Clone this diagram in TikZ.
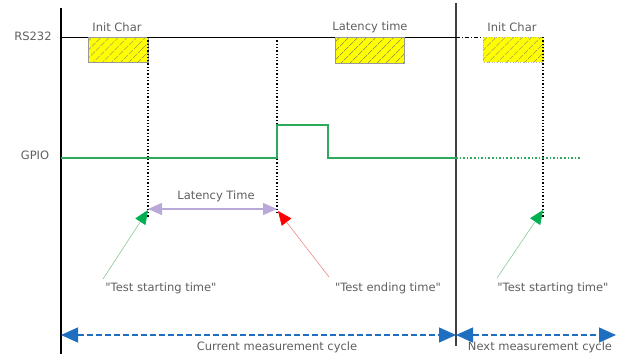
\documentclass[tikz,border=0pt]{standalone}
\usepackage{fontspec}
\setmainfont{DejaVu Sans}
\usetikzlibrary{arrows.meta,patterns.meta}
\definecolor{txtgray}{HTML}{5F5F5F}
\definecolor{gpiogreen}{HTML}{2EAA5C}
\definecolor{headgreen}{HTML}{00B050}
\definecolor{stemgreen}{HTML}{86C99A}
\definecolor{stemred}{HTML}{F08A8A}
\definecolor{lavender}{HTML}{B9A9D8}
\definecolor{cycleblue}{HTML}{1F6FC0}
\definecolor{hatchyellow}{HTML}{FFFF00}
\tikzset{
  lbl/.style={font=\fontsize{11.5}{13}\selectfont, text=txtgray, inner sep=0pt},
  hatch/.style={pattern={Lines[angle=45,distance=6.5pt,line width=0.5pt]}, pattern color=gray!80!black},
  marker/.style={black, dotted, line width=1.3pt},
  gpio/.style={gpiogreen, line width=1.6pt},
  span/.style={lavender, line width=1.2pt, {Triangle[length=14pt,width=12pt]}-{Triangle[length=14pt,width=12pt]}},
  startarrow/.style={stemgreen, line width=0.6pt, -{Triangle[length=14pt,width=12pt,color=headgreen]}},
  endarrow/.style={stemred, line width=0.6pt, -{Triangle[length=14pt,width=12pt,color=red]}},
  cycle/.style={cycleblue, line width=1.3pt, dash pattern=on 6pt off 3pt,
    {Triangle[length=17pt,width=15pt]}-{Triangle[length=17pt,width=15pt]}}
}
\begin{document}
\begin{tikzpicture}[x=1pt,y=-1pt]
\useasboundingbox (0,0) rectangle (625,356);

% key instants
\coordinate (t0) at (61,37);
\coordinate (ts) at (148,37);
\coordinate (te) at (277,37);
\coordinate (tn) at (456,37);
\coordinate (ts2) at (543,37);

% frame lines
\coordinate (axTop) at (61,8);
\coordinate (axBot) at (61,354);
\coordinate (cyTop) at (456,3);
\coordinate (cyBot) at (456,346);
\draw[black, line width=1.5pt] (axTop) -- (axBot);
\draw[black!75, line width=1.5pt] (cyTop) -- (cyBot);

% signal names
\node[lbl] (rsname) at (33,36) {RS232};
\node[lbl] (gpioname) at (35,155) {GPIO};

% RS232 line
\draw[black, line width=1pt] (t0) -- (tn);
\coordinate (rsEnd) at (483,37);
\draw[black, line width=1pt, dash pattern=on 4pt off 2pt on 1pt off 2pt] (tn) -- (rsEnd);

% characters on RS232: yellow fill, hatching, outline
\fill[hatchyellow] (88,37) rectangle (148,62);
\fill[hatchyellow] (335,37) rectangle (404,63);
\fill[hatchyellow] (483,37) rectangle (543,62);
\path[hatch] (88,37) rectangle (148,62);
\path[hatch] (335,37) rectangle (404,63);
\path[hatch] (483,37) rectangle (543,62);
\draw[gray!80, line width=0.5pt] (88,37) rectangle (148,62);
\draw[gray!80, line width=0.5pt] (335,37) rectangle (404,63);
\draw[gray!60, line width=0.6pt, dotted] (483,37) rectangle (543,62);
\node[lbl] (ic1) at (117,27) {Init Char};
\node[lbl] (lat) at (370,27) {Latency time};
\node[lbl] (ic2) at (512,27) {Init Char};

% dotted markers
\coordinate (ms) at (148,218);
\coordinate (me) at (277,212);
\coordinate (ms2) at (543,218);
\draw[marker] (ts) -- (ms);
\draw[marker] (te) -- (me);
\draw[marker] (ts2) -- (ms2);

% GPIO trace
\coordinate (g0) at (61,158);
\coordinate (g1) at (277,158);
\coordinate (g2) at (277,125);
\coordinate (g3) at (328,125);
\coordinate (g4) at (328,158);
\coordinate (g5) at (456,158);
\coordinate (g6) at (580,158);
\draw[gpio] (g0) -- (g1) -- (g2) -- (g3) -- (g4) -- (g5);
\draw[gpio, dotted] (g5) -- (g6);

% latency span
\coordinate (la) at (148,209);
\coordinate (lb) at (277,209);
\draw[span] (la) -- (lb);
\node[lbl] (latT) at (216,196) {Latency Time};

% start / end pointers
\coordinate (p1) at (103,279);
\coordinate (p1t) at (148,210);
\coordinate (p2) at (329,277);
\coordinate (p2t) at (278,211);
\coordinate (p3) at (497,278);
\coordinate (p3t) at (543,210);
\draw[startarrow] (p1) -- (p1t);
\draw[endarrow] (p2) -- (p2t);
\draw[startarrow] (p3) -- (p3t);
\node[lbl] (st1) at (161,288) {\textquotedbl Test starting time\textquotedbl};
\node[lbl] (en1) at (388,288) {\textquotedbl Test ending time\textquotedbl};
\node[lbl] (st2) at (553,288) {\textquotedbl Test starting time\textquotedbl};

% measurement cycles
\coordinate (c0) at (61,335);
\coordinate (c1) at (456,335);
\coordinate (c2) at (616,335);
\draw[cycle] (c0) -- (c1);
\draw[cycle] (c1) -- (c2);
\node[lbl] (cur) at (277,347) {Current measurement cycle};
\node[lbl] (nxt) at (540,347) {Next measurement cycle};
\end{tikzpicture}
\end{document}
